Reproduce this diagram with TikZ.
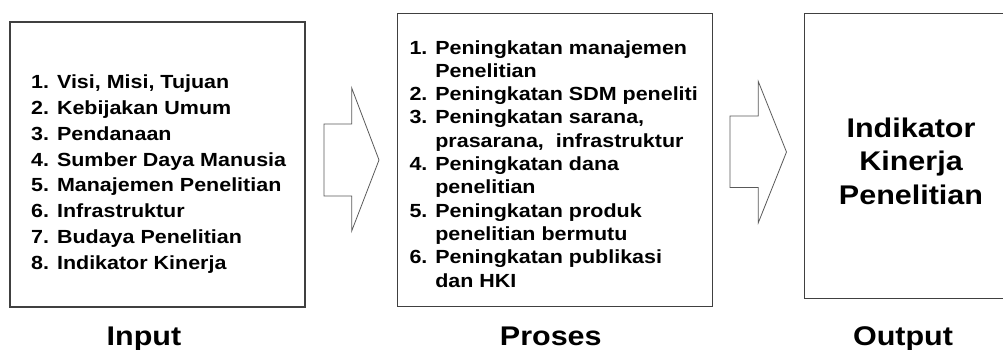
\documentclass[tikz,border=0pt]{standalone}
\usepackage{fontspec}
\setmainfont[FakeStretch=1.13]{Liberation Sans}

\begin{document}
\begin{tikzpicture}[x=1pt,y=-1pt,
        box/.style={draw=black!75,line width=1.1pt},
        blockarrow/.style={draw=black!65,line width=0.8pt},
        list/.style={inner sep=0pt,align=left,anchor=north west},
        caption/.style={inner sep=0pt,anchor=base,font=\bfseries\fontsize{27}{30}\selectfont}]
        \useasboundingbox(0,0)rectangle(1003,350);
        \clip(0,0)rectangle(1003,350);

        \node[box,minimum width=295,minimum height=285](input)at(157.5,164.5){};
        \node[box,minimum width=315,minimum height=293.4](proses)at(554.8,160){};
        \node[box,minimum width=213.7,minimum height=285](output)at(911.2,155.8){};

        \node[list,font=\bfseries\fontsize{19}{25.9}\selectfont](inputlist)at(31,74.4){%
        1. Visi, Misi, Tujuan\\ 2. Kebijakan Umum\\ 3. Pendanaan\\ 4. Sumber Daya Manusia\\
        5. Manajemen Penelitian\\ 6. Infrastruktur\\ 7. Budaya Penelitian\\ 8. Indikator Kinerja};
        \node[list,font=\bfseries\fontsize{19}{23.3}\selectfont](proseslist)at(409.3,40.1){%
        1. Peningkatan manajemen\\ \hphantom{1. }Penelitian\\
        2. Peningkatan SDM peneliti\\
        3. Peningkatan sarana,\\ \hphantom{3. }prasarana,\ \ infrastruktur\\
        4. Peningkatan dana\\ \hphantom{4. }penelitian\\
        5. Peningkatan produk\\ \hphantom{5. }penelitian bermutu\\
        6. Peningkatan publikasi\\ \hphantom{6. }dan HKI};
        \node[inner sep=0pt,align=center,anchor=north,font=\bfseries\fontsize{27}{33.5}\selectfont](outputtext)at(911,117.6){%
        Indikator\\ Kinerja\\ Penelitian};

        \draw[blockarrow](324,124)--(351.7,124)--(351.7,88)--(379,160)--(351.7,231)--(351.7,196)--(324,196)--cycle;
        \draw[blockarrow](730,116)--(758.3,116)--(758.3,81.5)--(786.5,152)--(758.3,222.7)--(758.3,187.5)--(730,187.5)--cycle;

        \node[caption](inputlabel)at(144,345){Input};
        \node[caption](proseslabel)at(550.8,345){Proses};
        \node[caption](outputlabel)at(903,345){Output};
    \end{tikzpicture}
\end{document}
